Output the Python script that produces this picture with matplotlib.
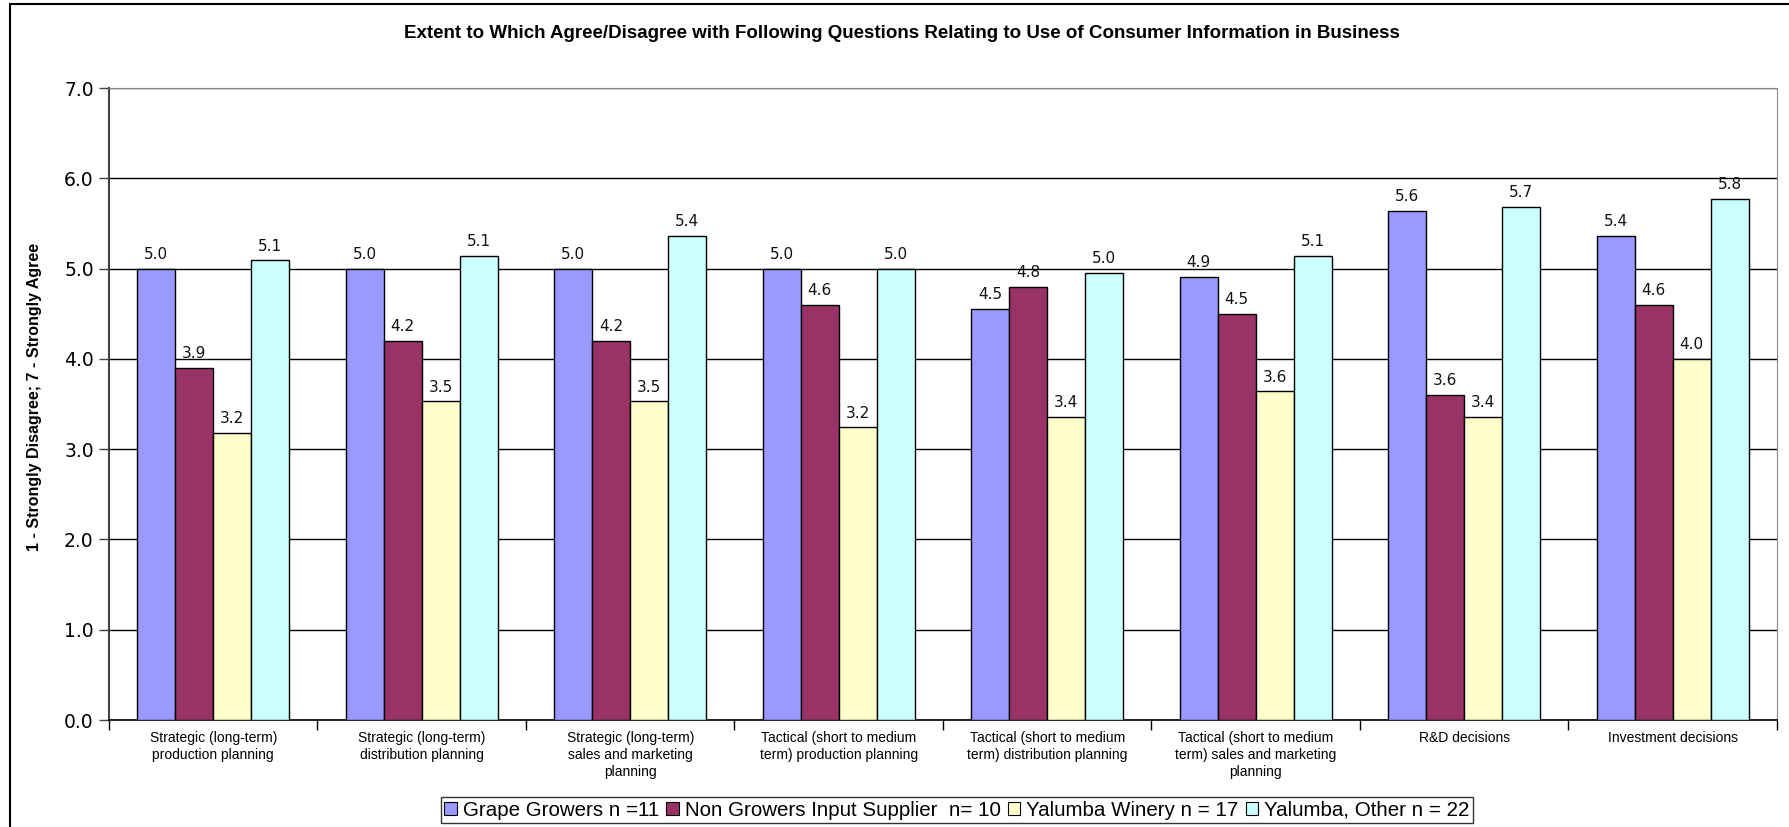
import numpy as np
import matplotlib.pyplot as plt
from matplotlib.patches import Patch, Rectangle

categories = [
    "Strategic (long-term)\nproduction planning",
    "Strategic (long-term)\ndistribution planning",
    "Strategic (long-term)\nsales and marketing\nplanning",
    "Tactical (short to medium\nterm) production planning",
    "Tactical (short to medium\nterm) distribution planning",
    "Tactical (short to medium\nterm) sales and marketing\nplanning",
    "R&D decisions",
    "Investment decisions",
]

grape_growers = [5.0, 5.0, 5.0, 5.0, 4.55, 4.91, 5.64, 5.36]
non_growers = [3.9, 4.2, 4.2, 4.6, 4.8, 4.5, 3.6, 4.6]
yalumba_winery = [3.18, 3.53, 3.53, 3.24, 3.36, 3.64, 3.36, 4.0]
yalumba_other = [5.09, 5.14, 5.36, 5.0, 4.95, 5.14, 5.68, 5.77]

series_names = [
    "Grape Growers n =11",
    "Non Growers Input Supplier  n= 10",
    "Yalumba Winery n = 17",
    "Yalumba, Other n = 22",
]
colors = ["#9999FF", "#993366", "#FFFFCC", "#CCFFFF"]

W, H = 1790, 827
fig = plt.figure(figsize=(W / 100, H / 100), dpi=100)
ax = fig.add_axes([109 / W, 1 - 720 / H, (1777 - 109) / W, (720 - 88) / H])

x = np.arange(len(categories))
w = 0.182
all_series = [grape_growers, non_growers, yalumba_winery, yalumba_other]
for i, (vals, col) in enumerate(zip(all_series, colors)):
    pos = x + (i - 1.5) * w
    ax.bar(pos, vals, width=w, color=col, edgecolor="black", linewidth=1.0, zorder=3)
    for px, v in zip(pos, vals):
        ax.annotate("%.1f" % v, (px, v), xytext=(0, 7), textcoords="offset points",
                    ha="center", va="baseline", fontsize=11, family="DejaVu Sans",
                    color="#111111", zorder=4)

ax.set_xlim(-0.5, len(categories) - 0.5)
ax.set_ylim(0, 7)
ax.set_yticks(np.arange(0, 8, 1))
ax.set_yticklabels(["%.1f" % t for t in np.arange(0, 8, 1)], family="DejaVu Sans", fontsize=13.5)
ax.yaxis.grid(True, color="black", linewidth=1.0, zorder=0)
ax.set_axisbelow(True)

# group separators as major ticks, category names on minor ticks
ax.set_xticks(np.arange(-0.5, len(categories)), minor=False)
ax.set_xticklabels([])
ax.set_xticks(x, minor=True)
ax.set_xticklabels(categories, minor=True, family="Liberation Sans", fontsize=10,
                   linespacing=1.28, va="top")
ax.tick_params(axis="x", which="minor", length=0, pad=8)
ax.tick_params(axis="x", which="major", length=7, width=1, color="black")
ax.tick_params(axis="y", length=7, width=1, color="#444444", pad=4)

ax.spines["left"].set_color("#444444")
ax.spines["left"].set_linewidth(1.5)
ax.spines["bottom"].set_color("black")
ax.spines["bottom"].set_linewidth(1.2)
ax.spines["top"].set_color("#888888")
ax.spines["right"].set_color("#888888")

fig.text(35 / W, 1 - 397 / H, "1 - Strongly Disagree; 7 - Strongly Agree",
         rotation=90, ha="center", va="center", family="Liberation Sans",
         fontsize=11.5, fontweight="bold")

fig.text(902 / W, 1 - 34 / H,
         "Extent to Which Agree/Disagree with Following Questions Relating to Use of Consumer Information in Business",
         ha="center", va="center", family="Liberation Sans", fontweight="bold", fontsize=13.5)

handles = [Patch(facecolor=c, edgecolor="black", linewidth=0.8) for c in colors]
leg = fig.legend(handles, series_names, loc="center", bbox_to_anchor=(957 / W, 1 - 810 / H),
                 ncol=4, frameon=True, fancybox=False, prop={"family": "Liberation Sans", "size": 14.8},
                 handlelength=0.6, handleheight=0.6, handletextpad=0.3, columnspacing=0.35,
                 borderpad=0.15, borderaxespad=0)
leg.get_frame().set_edgecolor("black")
leg.get_frame().set_linewidth(1.0)

# outer chart border
fig.add_artist(Rectangle((10 / W, -0.05), 1.1, 1 - 4 / H + 0.05, transform=fig.transFigure,
                         fill=False, edgecolor="black", linewidth=1.5))

fig.savefig("out.png", dpi=100)
